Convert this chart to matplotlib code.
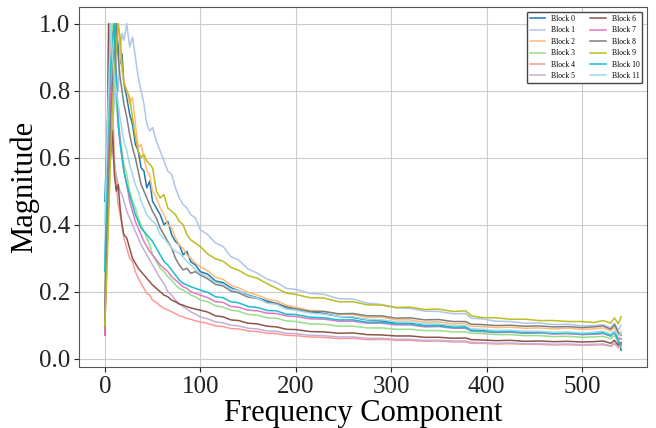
import matplotlib
matplotlib.use("Agg")
import matplotlib.pyplot as plt
import numpy as np

plt.rcParams['font.family'] = ['Liberation Serif', 'DejaVu Serif']

freq = [0, 2, 4, 6, 8, 10, 12, 14, 16, 18, 20, 23, 26, 29, 32, 35, 38, 41, 44, 47,
        50, 54, 58, 62, 66, 70, 74, 78, 82, 86, 90, 95, 100, 108, 116, 124, 132, 140,
        150, 160, 170, 180, 190, 200, 215, 230, 245, 260, 275, 290, 305, 320, 335, 350,
        365, 378, 384, 395, 410, 425, 440, 455, 470, 485, 500, 512, 522, 530, 534, 538, 541]

block0 = [0.47, 0.62, 0.80, 0.74, 0.90, 0.86, 1.00, 0.93, 0.88, 0.91, 0.82, 0.78, 0.73, 0.70, 0.64, 0.62, 0.57, 0.56, 0.51, 0.53,
          0.47, 0.45, 0.43, 0.40, 0.41, 0.37, 0.35, 0.34, 0.31, 0.32, 0.29, 0.28, 0.26, 0.252, 0.232, 0.227, 0.212, 0.203,
          0.190, 0.182, 0.172, 0.165, 0.155, 0.148, 0.140, 0.135, 0.126, 0.123, 0.116, 0.113, 0.106, 0.105, 0.099, 0.100,
          0.094, 0.095, 0.086, 0.085, 0.080, 0.081, 0.077, 0.078, 0.075, 0.076, 0.073, 0.074, 0.076, 0.068, 0.080, 0.055, 0.025]
block1 = [0.30, 0.42, 0.55, 0.70, 0.66, 0.78, 0.85, 0.80, 0.92, 0.97, 0.95, 1.00, 0.93, 0.96, 0.90, 0.84, 0.80, 0.76, 0.70, 0.68,
          0.69, 0.65, 0.62, 0.59, 0.56, 0.55, 0.51, 0.48, 0.46, 0.45, 0.43, 0.42, 0.385, 0.37, 0.345, 0.335, 0.305, 0.295,
          0.268, 0.255, 0.238, 0.228, 0.21, 0.207, 0.195, 0.192, 0.179, 0.178, 0.166, 0.162, 0.152, 0.150, 0.142, 0.141,
          0.134, 0.135, 0.121, 0.119, 0.112, 0.111, 0.106, 0.107, 0.102, 0.103, 0.098, 0.099, 0.102, 0.092, 0.106, 0.086, 0.10]
block2 = [0.10, 0.30, 0.48, 0.66, 0.80, 0.90, 0.95, 1.00, 0.92, 0.86, 0.83, 0.80, 0.76, 0.78, 0.70, 0.63, 0.64, 0.60, 0.56, 0.55,
          0.50, 0.48, 0.45, 0.43, 0.40, 0.39, 0.36, 0.34, 0.33, 0.31, 0.30, 0.285, 0.275, 0.262, 0.243, 0.237, 0.219, 0.212,
          0.198, 0.19, 0.178, 0.173, 0.160, 0.154, 0.144, 0.141, 0.133, 0.132, 0.123, 0.124, 0.116, 0.116, 0.109, 0.110,
          0.104, 0.105, 0.097, 0.096, 0.093, 0.094, 0.091, 0.092, 0.089, 0.091, 0.088, 0.089, 0.092, 0.083, 0.095, 0.074, 0.08]
block3 = [0.20, 0.40, 0.62, 0.85, 1.00, 0.88, 0.76, 0.70, 0.65, 0.62, 0.58, 0.55, 0.50, 0.47, 0.45, 0.42, 0.40, 0.38, 0.36, 0.34,
          0.31, 0.29, 0.27, 0.26, 0.245, 0.235, 0.22, 0.21, 0.205, 0.198, 0.19, 0.185, 0.175, 0.17, 0.158, 0.154, 0.145, 0.142,
          0.132, 0.13, 0.122, 0.121, 0.113, 0.111, 0.104, 0.103, 0.097, 0.097, 0.092, 0.092, 0.088, 0.088, 0.084, 0.084,
          0.080, 0.080, 0.076, 0.075, 0.072, 0.072, 0.069, 0.069, 0.066, 0.067, 0.064, 0.065, 0.067, 0.060, 0.069, 0.054, 0.06]
block4 = [0.08, 0.35, 0.70, 1.00, 0.78, 0.60, 0.52, 0.46, 0.43, 0.40, 0.36, 0.33, 0.30, 0.29, 0.26, 0.24, 0.225, 0.21, 0.195, 0.19,
          0.175, 0.168, 0.158, 0.15, 0.146, 0.14, 0.135, 0.128, 0.125, 0.12, 0.118, 0.113, 0.11, 0.105, 0.098, 0.096, 0.090, 0.089,
          0.083, 0.081, 0.076, 0.075, 0.070, 0.069, 0.065, 0.064, 0.060, 0.061, 0.057, 0.058, 0.055, 0.055, 0.052, 0.053,
          0.050, 0.050, 0.046, 0.046, 0.044, 0.045, 0.043, 0.043, 0.041, 0.042, 0.040, 0.041, 0.042, 0.037, 0.044, 0.033, 0.037]
block5 = [0.15, 0.50, 1.00, 0.80, 0.62, 0.58, 0.55, 0.52, 0.50, 0.49, 0.47, 0.44, 0.42, 0.40, 0.38, 0.36, 0.34, 0.325, 0.31, 0.295,
          0.28, 0.26, 0.24, 0.225, 0.20, 0.19, 0.175, 0.165, 0.155, 0.148, 0.14, 0.133, 0.125, 0.119, 0.11, 0.107, 0.100, 0.098,
          0.091, 0.089, 0.083, 0.082, 0.076, 0.075, 0.070, 0.069, 0.065, 0.065, 0.061, 0.061, 0.058, 0.058, 0.055, 0.055,
          0.053, 0.053, 0.049, 0.048, 0.046, 0.047, 0.045, 0.045, 0.043, 0.044, 0.042, 0.043, 0.044, 0.039, 0.047, 0.037, 0.045]
block6 = [0.07, 0.45, 1.00, 0.60, 0.68, 0.55, 0.50, 0.52, 0.45, 0.40, 0.37, 0.36, 0.33, 0.30, 0.285, 0.27, 0.26, 0.25, 0.24, 0.23,
          0.22, 0.21, 0.20, 0.19, 0.185, 0.175, 0.17, 0.163, 0.16, 0.155, 0.152, 0.148, 0.145, 0.139, 0.128, 0.125, 0.116, 0.114,
          0.106, 0.104, 0.097, 0.095, 0.088, 0.087, 0.081, 0.080, 0.076, 0.077, 0.072, 0.071, 0.068, 0.068, 0.064, 0.064,
          0.061, 0.062, 0.057, 0.056, 0.054, 0.055, 0.052, 0.053, 0.051, 0.052, 0.050, 0.051, 0.053, 0.046, 0.055, 0.041, 0.048]
block7 = [0.07, 0.35, 0.62, 0.85, 0.95, 1.00, 0.86, 0.72, 0.66, 0.60, 0.56, 0.52, 0.47, 0.44, 0.41, 0.39, 0.37, 0.35, 0.335, 0.32,
          0.31, 0.295, 0.28, 0.27, 0.26, 0.245, 0.235, 0.225, 0.215, 0.21, 0.20, 0.195, 0.19, 0.182, 0.17, 0.168, 0.156, 0.154,
          0.145, 0.143, 0.136, 0.135, 0.128, 0.126, 0.119, 0.118, 0.112, 0.112, 0.106, 0.106, 0.101, 0.101, 0.095, 0.096,
          0.091, 0.091, 0.082, 0.081, 0.078, 0.079, 0.076, 0.077, 0.074, 0.075, 0.072, 0.073, 0.076, 0.068, 0.082, 0.061, 0.06]
block8 = [0.12, 0.35, 0.55, 0.70, 0.82, 0.92, 1.00, 0.90, 0.84, 0.80, 0.76, 0.72, 0.67, 0.63, 0.60, 0.56, 0.52, 0.50, 0.48, 0.46,
          0.44, 0.42, 0.39, 0.37, 0.35, 0.33, 0.30, 0.28, 0.265, 0.27, 0.255, 0.26, 0.25, 0.238, 0.222, 0.217, 0.202, 0.197,
          0.184, 0.18, 0.168, 0.165, 0.152, 0.149, 0.141, 0.141, 0.134, 0.135, 0.128, 0.128, 0.121, 0.122, 0.116, 0.117,
          0.111, 0.111, 0.103, 0.102, 0.099, 0.10, 0.097, 0.098, 0.095, 0.096, 0.093, 0.095, 0.098, 0.088, 0.102, 0.078, 0.07]
block9 = [0.10, 0.25, 0.42, 0.60, 0.75, 0.85, 0.92, 1.00, 0.96, 0.88, 0.82, 0.80, 0.78, 0.72, 0.66, 0.62, 0.60, 0.61, 0.59, 0.58,
          0.57, 0.50, 0.48, 0.49, 0.45, 0.44, 0.43, 0.41, 0.40, 0.37, 0.355, 0.345, 0.335, 0.312, 0.298, 0.291, 0.273, 0.264,
          0.248, 0.24, 0.224, 0.21, 0.196, 0.192, 0.182, 0.181, 0.170, 0.170, 0.161, 0.160, 0.153, 0.154, 0.147, 0.148,
          0.141, 0.143, 0.128, 0.123, 0.122, 0.118, 0.118, 0.114, 0.114, 0.111, 0.111, 0.108, 0.114, 0.106, 0.122, 0.104, 0.126]
block10 = [0.26, 0.55, 0.75, 0.88, 0.95, 1.00, 0.82, 0.70, 0.64, 0.60, 0.56, 0.52, 0.49, 0.46, 0.43, 0.41, 0.39, 0.38, 0.37, 0.36,
           0.35, 0.33, 0.31, 0.29, 0.28, 0.265, 0.25, 0.235, 0.225, 0.22, 0.215, 0.21, 0.205, 0.198, 0.185, 0.182, 0.170, 0.167,
           0.156, 0.153, 0.144, 0.143, 0.133, 0.132, 0.124, 0.122, 0.116, 0.116, 0.109, 0.109, 0.104, 0.104, 0.098, 0.098,
           0.093, 0.093, 0.084, 0.083, 0.080, 0.081, 0.078, 0.079, 0.076, 0.077, 0.074, 0.075, 0.078, 0.069, 0.079, 0.05, 0.04]
block11 = [0.40, 0.62, 0.80, 1.00, 0.90, 0.84, 0.80, 0.76, 0.72, 0.68, 0.65, 0.62, 0.58, 0.55, 0.52, 0.50, 0.47, 0.45, 0.43, 0.42,
           0.41, 0.40, 0.37, 0.36, 0.345, 0.33, 0.32, 0.315, 0.305, 0.29, 0.28, 0.265, 0.255, 0.243, 0.228, 0.222, 0.208, 0.203,
           0.188, 0.181, 0.166, 0.162, 0.148, 0.145, 0.136, 0.133, 0.126, 0.125, 0.117, 0.116, 0.110, 0.110, 0.104, 0.104,
           0.098, 0.099, 0.089, 0.088, 0.084, 0.085, 0.082, 0.082, 0.079, 0.080, 0.077, 0.079, 0.082, 0.074, 0.083, 0.069, 0.075]

blocks = [block0, block1, block2, block3, block4, block5, block6, block7,
          block8, block9, block10, block11]
labels = [f"Block {i}" for i in range(12)]

fig = plt.figure(figsize=(6.56, 4.28), dpi=100)
ax = fig.add_axes([79/656, 1-366.7/428, (647-79)/656, (366.7-7.3)/428])

cmap = plt.get_cmap('tab20')
colors = cmap(np.linspace(0, 1, 12))
for i, vals in enumerate(blocks):
    ax.plot(freq, vals, color=colors[i], linewidth=1.1, label=labels[i])

ax.grid(True, color='#cccccc', linewidth=0.8)
ax.set_axisbelow(True)
ax.set_xlabel("Frequency Component", fontsize=22, labelpad=1)
ax.set_ylabel("Magnitude", fontsize=22, labelpad=0)
ax.tick_params(axis='both', labelsize=18, colors='#222222', pad=3)
for s in ax.spines.values():
    s.set_color('#555555')
ax.set_xticks([0, 100, 200, 300, 400, 500])
ax.set_yticks([0.0, 0.2, 0.4, 0.6, 0.8, 1.0])
ax.legend(loc='upper right', ncol=2, fontsize=5.5, frameon=True, edgecolor='#444444',
          fancybox=True, framealpha=1.0, handlelength=2.0, columnspacing=2.0,
          handletextpad=0.8, labelspacing=0.45, borderaxespad=0.6)

fig.savefig("out.png", dpi=100)
